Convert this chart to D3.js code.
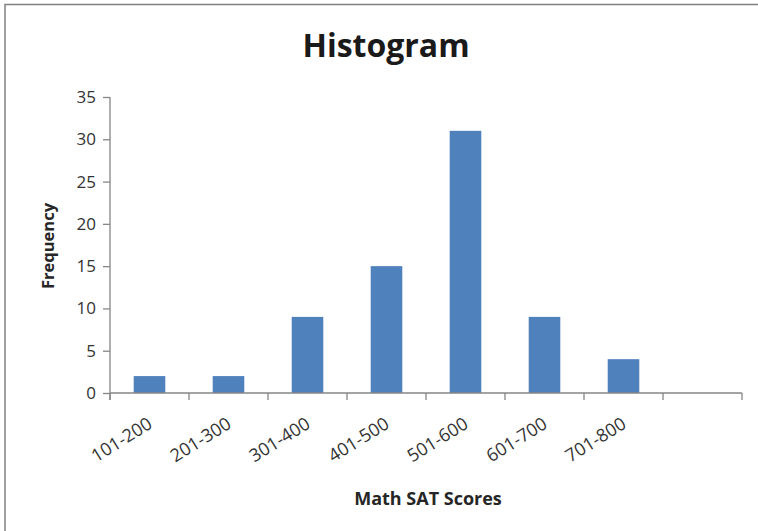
<!DOCTYPE html>
<html>
<head>
<meta charset="utf-8">
<script src="https://cdn.jsdelivr.net/npm/d3@7"></script>
<style>
  body { margin: 0; background: #fff; }
  svg { display: block; }
  text { font-family: "Open Sans", sans-serif; }
</style>
</head>
<body>
<div id="chart"></div>
<script>
// data
var categories = ['101-200', '201-300', '301-400', '401-500', '501-600', '601-700', '701-800', '']
var frequency = [2, 2, 9, 15, 31, 9, 4, null]
var yTicks = [0, 5, 10, 15, 20, 25, 30, 35]

var width = 758, height = 531
var margin = {top: 97, right: 16, bottom: 138, left: 110}
var axisColor = '#868686'

var svg = d3.select('#chart')
  .append('svg')
    .attr('width', width)
    .attr('height', height)

// frame (only left and top edges show in the picture)
svg.append('path')
  .attr('d', 'M5,' + height + 'V4.5H' + width)
  .attr('fill', 'none')
  .attr('stroke', '#808080')
  .attr('stroke-width', 1.5)

var x_scale = d3.scaleBand()
  .domain(categories.map(function(d, i){ return i }))
  .range([margin.left, width - margin.right])
  .paddingInner(0.6)
  .paddingOuter(0.3)

var y_scale = d3.scaleLinear()
  .domain([0, 35])
  .range([height - margin.bottom, margin.top])

var step = x_scale.step()
var x0 = margin.left, x1 = width - margin.right
var y0 = y_scale(0)

// bars
svg.selectAll('rect.bar')
  .data(frequency.map(function(v, i){ return {i: i, v: v} }).filter(function(d){ return d.v != null }))
  .enter()
  .append('rect')
    .attr('class', 'bar')
    .attr('x', function(d){ return x_scale(d.i) })
    .attr('y', function(d){ return y_scale(d.v) })
    .attr('width', x_scale.bandwidth())
    .attr('height', function(d){ return y0 - y_scale(d.v) })
    .attr('fill', '#4f81bd')

// y axis
var yAxis = svg.append('g')
  .attr('transform', 'translate(' + x0 + ',0)')
  .call(d3.axisLeft(y_scale).tickValues(yTicks).tickSize(7).tickPadding(7))
yAxis.select('.domain').remove()
yAxis.append('line')
  .attr('x1', 0).attr('x2', 0)
  .attr('y1', y_scale(35)).attr('y2', y0 + 7)
yAxis.selectAll('line').attr('stroke', axisColor).attr('stroke-width', 1.3)
yAxis.selectAll('text')
  .attr('fill', '#333')
  .style('font-size', '17px')
  .style('font-family', '"Open Sans", sans-serif')

// x axis: ticks sit on band boundaries
var boundaries = d3.range(categories.length + 1).map(function(i){ return x0 + i * step })
var xAxis = svg.append('g')
xAxis.append('line')
  .attr('x1', x0).attr('x2', x1)
  .attr('y1', y0).attr('y2', y0)
xAxis.selectAll('line.tick')
  .data(boundaries)
  .enter()
  .append('line')
    .attr('class', 'tick')
    .attr('x1', function(d){ return d }).attr('x2', function(d){ return d })
    .attr('y1', y0).attr('y2', y0 + 7)
xAxis.selectAll('line').attr('stroke', axisColor).attr('stroke-width', 1.3)

xAxis.selectAll('text')
  .data(categories)
  .enter()
  .append('text')
    .attr('transform', function(d, i){
      var cx = x_scale(i) + x_scale.bandwidth() / 2 + 4
      return 'translate(' + cx + ',' + (y0 + 34) + ') rotate(-32)'
    })
    .attr('text-anchor', 'end')
    .attr('fill', '#333')
    .style('font-size', '18px')
    .text(function(d){ return d })

// titles
svg.append('text')
  .attr('x', 386).attr('y', 57)
  .attr('text-anchor', 'middle')
  .attr('fill', '#1a1a1a')
  .style('font-size', '32px')
  .style('font-weight', 'bold')
  .text('Histogram')

svg.append('text')
  .attr('x', 428).attr('y', 505)
  .attr('text-anchor', 'middle')
  .attr('fill', '#262626')
  .style('font-size', '18px')
  .style('font-weight', 'bold')
  .text('Math SAT Scores')

svg.append('text')
  .attr('transform', 'translate(54,246) rotate(-90)')
  .attr('text-anchor', 'middle')
  .attr('fill', '#262626')
  .style('font-size', '16.5px')
  .style('font-weight', 'bold')
  .text('Frequency')
</script>
</body>
</html>
